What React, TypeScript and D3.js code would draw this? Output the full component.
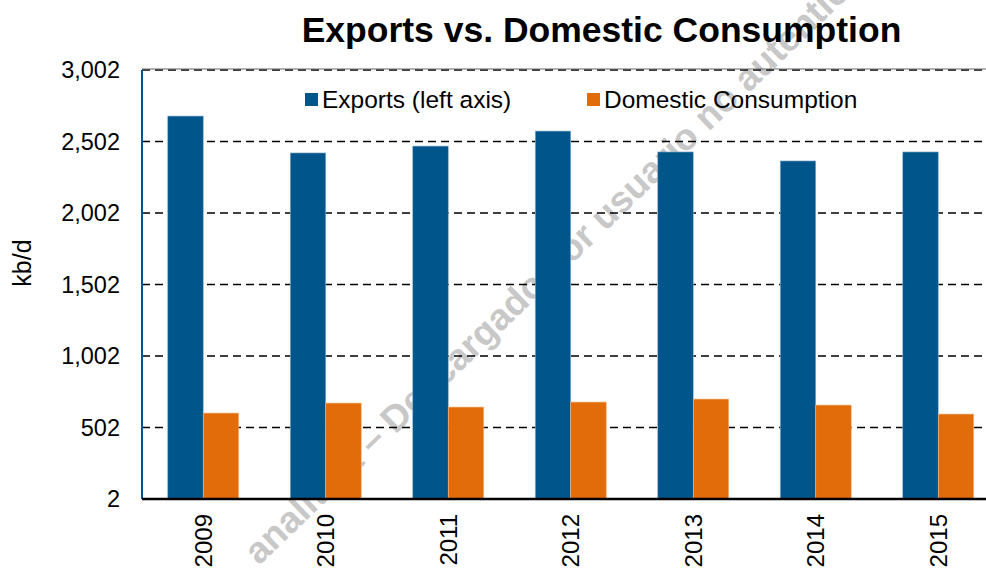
import React from "react";
import * as d3 from "d3";

const years = ["2009", "2010", "2011", "2012", "2013", "2014", "2015"];
const exportsKbd = [2680, 2422, 2470, 2575, 2429, 2366, 2429];
const domesticKbd = [603, 673, 645, 680, 701, 659, 596];
const yTicks = [2, 502, 1002, 1502, 2002, 2502, 3002];
const seriesNames = ["Exports (left axis)", "Domestic Consumption"];
const seriesColors = ["#00558A", "#E36C0A"];

const W = 986;
const H = 569;
const left = 142;
const top = 70;
const bottom = 499;
const step = 122.5;
const right = left + step * years.length;
const barW = 35.5;

export default function App() {
  const x = d3.scaleBand<string>().domain(years).range([left, right]).padding(0);
  const inner = d3.scaleBand<number>().domain([0, 1]).range([-barW, barW]);
  const y = d3.scaleLinear().domain([2, 3002]).range([bottom, top]);
  const fmt = d3.format(",");
  const series = [exportsKbd, domesticKbd];
  const font = "Liberation Sans, Arial, sans-serif";
  const cx = (yr: string) => (x(yr) as number) + x.bandwidth() / 2;

  return (
    <svg width={W} height={H} style={{ position: "absolute", left: 0, top: 0, background: "#fff" }} fontFamily={font}>
      <rect x={0} y={0} width={W} height={H} fill="#fff" />
      {/* watermark */}
      <g transform="translate(605,232) rotate(-44)" fill="#c8c8c8" fontSize={37} fontWeight="bold">
        <text textAnchor="end" x={-10}>analítica – Descargado por</text>
        <text textAnchor="start" x={0}>usuario no autenticado</text>
      </g>
      {/* grid */}
      {yTicks.slice(1).map((t) => (
        <line key={t} x1={left} x2={W} y1={y(t)} y2={y(t)} stroke="#000" strokeWidth={1.5} strokeDasharray="8 5" />
      ))}
      <line x1={left} x2={W} y1={y(3002) - 1} y2={y(3002) - 1} stroke="#666" strokeWidth={1} />
      {/* bars */}
      {series.map((vals, si) =>
        years.map((yr, i) => (
          <rect
            key={si + "-" + yr}
            x={cx(yr) + (inner(si) as number)}
            y={y(vals[i])}
            width={inner.bandwidth()}
            height={y(2) - y(vals[i])}
            fill={seriesColors[si]}
            stroke={si === 0 ? "#8fb3cf" : "#f3b98a"}
            strokeWidth={0.6}
          />
        ))
      )}
      {/* axes */}
      <line x1={left} x2={left} y1={top} y2={bottom} stroke="#00558A" strokeWidth={2} />
      <line x1={left} x2={W} y1={bottom} y2={bottom} stroke="#000" strokeWidth={2.5} />
      {yTicks.map((t) => (
        <text key={t} x={120} y={y(t)} dy="0.36em" textAnchor="end" fontSize={23.5} fill="#000">
          {fmt(t)}
        </text>
      ))}
      {years.map((yr) => (
        <text
          key={yr}
          transform={`translate(${cx(yr) + 8.5},${514}) rotate(-90)`}
          textAnchor="end"
          fontSize={24}
          fill="#000"
        >
          {yr}
        </text>
      ))}
      <text transform="translate(31,263) rotate(-90)" textAnchor="middle" fontSize={25} fill="#000">
        kb/d
      </text>
      {/* title */}
      <text x={601.5} y={41.5} textAnchor="middle" fontSize={35.5} fontWeight="bold" fill="#000">
        Exports vs. Domestic Consumption
      </text>
      {/* legend */}
      {seriesNames.map((n, i) => {
        const lx = i === 0 ? 305 : 587;
        return (
          <g key={n}>
            <rect x={lx} y={93} width={13} height={13} fill={seriesColors[i]} />
            <text x={lx + 17} y={108} fontSize={24.5} fill="#000">
              {n}
            </text>
          </g>
        );
      })}
    </svg>
  );
}
